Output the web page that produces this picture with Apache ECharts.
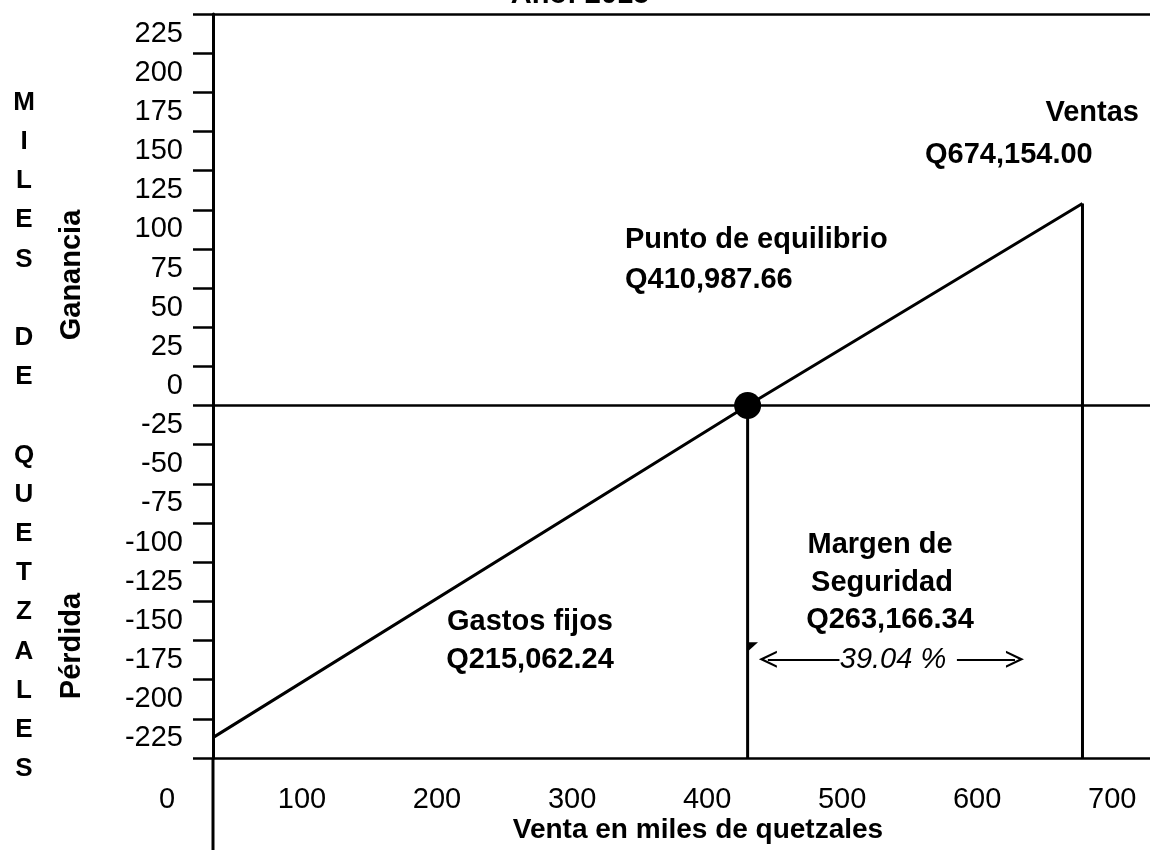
<!DOCTYPE html>
<html>
<head>
<meta charset="utf-8">
<title>Punto de equilibrio</title>
<script src="https://cdn.jsdelivr.net/npm/echarts@6/dist/echarts.min.js"></script>
<style>
    html, body { margin: 0; padding: 0; background: #fff; }
    #chart { width: 1150px; height: 850px; }
</style>
</head>
<body>
<div id="chart"></div>
<script>
// 纵轴刻度文字（下 -> 上），原图文字写在两刻度之间
var yTickLabels = ['-225', '-200', '-175', '-150', '-125', '-100', '-75', '-50', '-25', '0',
                   '25', '50', '75', '100', '125', '150', '175', '200', '225'];
var yMin = -225, yMax = 250, yStep = 25;
var xMin = 0, xMax = 728, xStep = 100;

var axisCrossX = 34;                  // 纵轴线所在的销售额位置
var frameLevels = [250, 0, -225];     // 上框线、零线、底线
var ventasLine = [[34, -212], [430, 0], [678, 129]];
var equilibrio = [[430, 0]];
var equilibrioDrop = [[430, 0], [430, -225]];
var ventasDrop = [[678, 129], [678, -225]];
var margenLeft = [[498, -162], [445, -162]];
var margenRight = [[585, -162], [628, -162]];
var notchMark = [[434, -154]];

var FONT = '"Liberation Sans", Arial, sans-serif';
var BLACK = '#000';
var ARROW = 'path://M6,0L12,10L10.4,10L6,2.9L1.6,10L0,10Z';

function txt(text, x, y, align, opt) {
    opt = opt || {};
    return {
        type: 'text',
        x: x,
        y: y,
        rotation: opt.rotation || 0,
        silent: true,
        style: {
            text: text,
            fill: BLACK,
            fontFamily: FONT,
            fontSize: opt.size || 29,
            fontWeight: opt.weight || 'bold',
            fontStyle: opt.style || 'normal',
            lineHeight: opt.lineHeight,
            align: align,
            textAlign: align,
            verticalAlign: opt.valign || 'middle',
            textVerticalAlign: opt.valign || 'middle'
        }
    };
}

var myChart = echarts.init(document.getElementById('chart'));
var option = {
    animation: false,
    backgroundColor: '#fff',
    grid: { left: 167, right: 0, top: 14, bottom: 92, containLabel: false, outerBoundsMode: 'none' },
    xAxis: {
        type: 'value',
        min: xMin,
        max: xMax,
        interval: xStep,
        axisLine: { show: false, onZero: false },
        axisTick: { show: false },
        splitLine: { show: false },
        axisLabel: {
            margin: 27,
            fontSize: 29,
            color: BLACK,
            fontFamily: FONT,
            showMaxLabel: false
        }
    },
    yAxis: [
        {
            // 数值轴：轴线与刻度
            type: 'value',
            position: 'left',
            min: yMin,
            max: yMax,
            interval: yStep,
            offset: -(213 - 167),
            axisLine: { show: true, onZero: false, lineStyle: { color: BLACK, width: 3 } },
            axisTick: { show: true, inside: false, length: 20, lineStyle: { color: BLACK, width: 2.5 } },
            axisLabel: { show: false },
            splitLine: { show: false }
        },
        {
            // 分类轴：只显示刻度之间的文字
            type: 'category',
            position: 'left',
            data: yTickLabels,
            boundaryGap: true,
            offset: -(213 - 167),
            axisLine: { show: false, onZero: false },
            axisTick: { show: false },
            splitLine: { show: false },
            axisLabel: {
                interval: 0,
                margin: 30,
                fontSize: 29,
                color: BLACK,
                fontFamily: FONT
            }
        }
    ],
    series: [
        {
            name: 'Ventas',
            type: 'line',
            data: ventasLine,
            symbol: 'none',
            silent: true,
            lineStyle: { color: BLACK, width: 3 },
            markLine: {
                silent: true,
                symbol: 'none',
                label: { show: false },
                lineStyle: { color: BLACK, width: 2.5, type: 'solid' },
                data: frameLevels.map(function (v) {
                    return [{ coord: [axisCrossX, v] }, { coord: [xMax, v] }];
                })
            }
        },
        {
            name: 'equilibrio',
            type: 'line',
            data: equilibrioDrop,
            symbol: 'none',
            silent: true,
            lineStyle: { color: BLACK, width: 3 },
            markLine: {
                silent: true,
                symbol: ['none', ARROW],
                symbolSize: [17, 18],
                label: { show: false },
                lineStyle: { color: BLACK, width: 2, type: 'solid' },
                data: [
                    [{ coord: margenLeft[0] }, { coord: margenLeft[1] }],
                    [{ coord: margenRight[0] }, { coord: margenRight[1] }]
                ]
            }
        },
        {
            name: 'ventasDrop',
            type: 'line',
            data: ventasDrop,
            symbol: 'none',
            silent: true,
            lineStyle: { color: BLACK, width: 3 }
        },
        {
            name: 'punto',
            type: 'scatter',
            data: equilibrio,
            symbol: 'circle',
            symbolSize: 27,
            silent: true,
            itemStyle: { color: BLACK, opacity: 1 }
        },
        {
            // 纵线上的小三角
            name: 'notch',
            type: 'scatter',
            data: notchMark,
            symbol: 'path://M0,0L10,0L0,9Z',
            symbolSize: [10, 9],
            silent: true,
            itemStyle: { color: BLACK, opacity: 1 }
        }
    ],
    graphic: [
        // 标题（原图被裁掉上半部分）
        txt('Año: 2015', 580, 9, 'center', { valign: 'bottom', size: 29 }),
        // 纵向标题
        txt('M\nI\nL\nE\nS\n\nD\nE\n\nQ\nU\nE\nT\nZ\nA\nL\nE\nS', 24, 83, 'center',
            { valign: 'top', size: 26, lineHeight: 39.2 }),
        txt('Ganancia', 72, 275, 'center', { rotation: Math.PI / 2 }),
        txt('Pérdida', 72, 646, 'center', { rotation: Math.PI / 2 }),
        // 注释
        txt('Ventas', 1139, 113, 'right'),
        txt('Q674,154.00', 925, 155, 'left'),
        txt('Punto de equilibrio', 625, 240, 'left'),
        txt('Q410,987.66', 625, 280, 'left'),
        txt('Margen de', 880, 545, 'center'),
        txt('Seguridad', 882, 583, 'center'),
        txt('Q263,166.34', 890, 620, 'center'),
        txt('39.04 %', 893, 660, 'center', { weight: 'normal', style: 'italic' }),
        txt('Gastos fijos', 530, 622, 'center'),
        txt('Q215,062.24', 530, 660, 'center'),
        txt('Venta en miles de quetzales', 698, 830, 'center', { size: 28 }),
        // 纵轴线在底线以下的延长
        {
            type: 'line',
            silent: true,
            shape: { x1: 213, y1: 758, x2: 213, y2: 850 },
            style: { stroke: BLACK, lineWidth: 3 }
        }
    ]
};
myChart.setOption(option);
window.addEventListener('resize', function () {
    myChart.resize();
});
</script>
</body>
</html>
